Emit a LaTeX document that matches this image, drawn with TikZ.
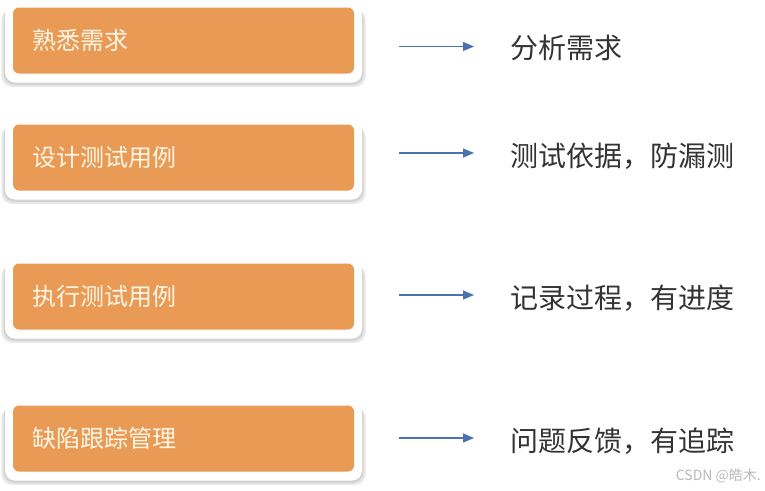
\documentclass[tikz,border=0pt]{standalone}
\usepackage{fontspec}
\setmainfont{Noto Sans CJK SC}
\usetikzlibrary{arrows.meta}
\definecolor{boxorange}{HTML}{E99A55}
\definecolor{boxtext}{HTML}{FFF6E6}
\definecolor{arrowblue}{HTML}{4A72B0}
\definecolor{labeltext}{HTML}{333333}
\definecolor{wmgray}{HTML}{B8B8B8}
\tikzset{
  orangebox/.style={fill=boxorange, rounded corners=6pt, minimum width=341pt, minimum height=66pt,
    text width=303pt, inner xsep=19pt, inner ysep=0pt, align=left, text=boxtext,
    font=\fontsize{24pt}{27pt}\selectfont},
  whitebox/.style={fill=white, rounded corners=10pt, minimum width=357pt, minimum height=78pt, inner sep=0pt},
  shadowbox/.style={fill=black, fill opacity=0.09, rounded corners=11pt, minimum width=#1, minimum height=78pt, inner sep=0pt},
  labeltxt/.style={anchor=west, inner sep=0pt, text=labeltext, font=\fontsize{28pt}{31pt}\selectfont},
  flowarrow/.style={draw=arrowblue, line width=1.2pt, -{Triangle[length=11pt,width=9pt]}},
}
\begin{document}
\begin{tikzpicture}[x=1pt,y=-1pt]
\useasboundingbox (0,0) rectangle (765,490);
\foreach \n/\y/\ay/\ty/\bt/\lt in {
  1/40.5/46.5/48/熟悉需求/分析需求,
  2/157.5/153/156/设计测试用例/测试依据，防漏测,
  3/296.5/295/298/执行测试用例/记录过程，有进度,
  4/438.5/438/441/缺陷跟踪管理/问题反馈，有追踪}{
  \node[shadowbox=364pt] (s\n) at (183.5,\y+7.5) {};
  \node[shadowbox=360pt] (t\n) at (183.5,\y+5.5) {};
  \node[whitebox] (w\n) at (183.5,\y+3) {};
  \node[orangebox] (b\n) at (183.5,\y) {\bt};
  \coordinate (a\n) at (399,\ay);
  \coordinate (e\n) at (474,\ay);
  \node[labeltxt] (l\n) at (510,\ty) {\lt};
  \draw[flowarrow] (a\n) -- (e\n);
}
\node[anchor=east, inner sep=0pt, text=wmgray, font=\fontsize{14pt}{16pt}\selectfont] (wm) at (761,476) {CSDN @皓木.};
\end{tikzpicture}
\end{document}
